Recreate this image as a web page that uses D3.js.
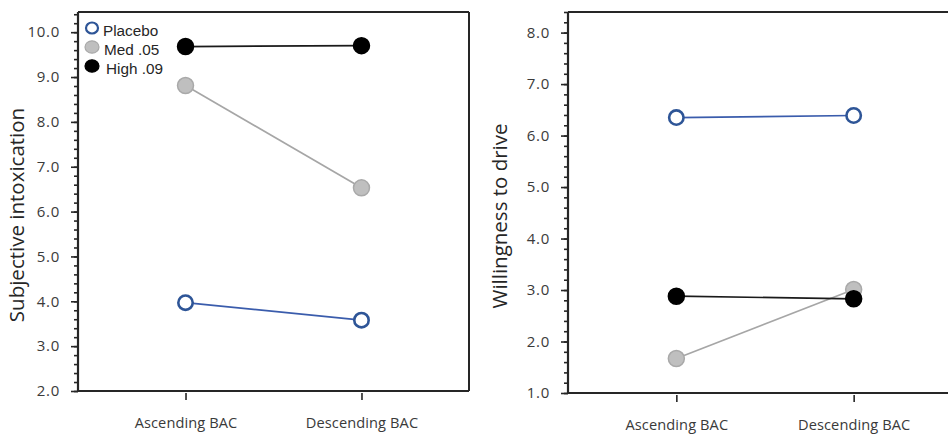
<!DOCTYPE html>
<html>
<head>
<meta charset="utf-8">
<script src="https://cdn.jsdelivr.net/npm/d3@7"></script>
<style>
  html, body { margin: 0; padding: 0; background: #fff; }
  svg { display: block; font-family: "Open Sans", sans-serif; }
</style>
</head>
<body>
<svg id="chart" width="948" height="435"></svg>
<script>
// Conditions on the x axis
const categories = ["Ascending BAC", "Descending BAC"];

// Beverage groups
const groups = ["Placebo", "Med .05", "High .09"];

// Subjective intoxication ratings
const intoxPlacebo = [3.97, 3.58];
const intoxMed = [8.81, 6.53];
const intoxHigh = [9.68, 9.70];

// Willingness to drive ratings
const drivePlacebo = [6.35, 6.39];
const driveMed = [1.67, 3.01];
const driveHigh = [2.88, 2.83];

// Tick labels
const intoxTicks = [2, 3, 4, 5, 6, 7, 8, 9, 10];
const driveTicks = [1, 2, 3, 4, 5, 6, 7, 8];

const styles = {
  "Placebo":  { fill: "#ffffff", stroke: "#2e5597", line: "#3a5cac", r: 7.2, sw: 2.6 },
  "Med .05":  { fill: "#bfbfbf", stroke: "#a9a9a9", line: "#a6a6a6", r: 8, sw: 1.5 },
  "High .09": { fill: "#000000", stroke: "#000000", line: "#1a1a1a", r: 8, sw: 1.5 }
};

const svg = d3.select("#chart");
const axisColor = "#262626";
const textColor = "#3a3a3a";

function panel(cfg) {
  const g = svg.append("g");
  const x = d3.scalePoint().domain(categories).range([cfg.left, cfg.right]).padding(0.611);
  const y = d3.scaleLinear().domain(cfg.domain).range([cfg.bottom, cfg.top]);

  // Frame: top, right and bottom edges
  g.append("line").attr("x1", cfg.left).attr("x2", cfg.right)
    .attr("y1", cfg.top).attr("y2", cfg.top)
    .attr("stroke", axisColor).attr("stroke-width", 2);
  g.append("line").attr("x1", cfg.right).attr("x2", cfg.right)
    .attr("y1", cfg.top).attr("y2", cfg.bottom)
    .attr("stroke", axisColor).attr("stroke-width", 2);
  g.append("line").attr("x1", cfg.left).attr("x2", cfg.right)
    .attr("y1", cfg.bottom).attr("y2", cfg.bottom)
    .attr("stroke", axisColor).attr("stroke-width", 2);

  // Minor ticks every 0.2
  const minor = d3.range(Math.round(cfg.domain[0] * 5), Math.floor(cfg.domain[1] * 5 + 1e-6) + 1)
    .map(v => v / 5);
  g.append("g")
    .attr("transform", `translate(${cfg.left},0)`)
    .call(d3.axisLeft(y).tickValues(minor).tickSize(4).tickSizeOuter(0).tickFormat(""))
    .call(a => a.select(".domain").remove())
    .call(a => a.selectAll("line").attr("stroke", axisColor).attr("stroke-width", 1.6));

  // Major ticks and labels
  g.append("g")
    .attr("transform", `translate(${cfg.left},0)`)
    .call(d3.axisLeft(y).tickValues(cfg.ticks).tickSize(7).tickPadding(11).tickSizeOuter(0)
      .tickFormat(d3.format(".1f")))
    .call(a => a.select(".domain").attr("stroke", axisColor).attr("stroke-width", 2.2)
      .attr("d", `M0,${cfg.top}V${cfg.bottom}`))
    .call(a => a.selectAll("line").attr("stroke", axisColor).attr("stroke-width", 1.6))
    .call(a => a.selectAll("text").attr("fill", textColor)
      .style("font-size", "15px").style("letter-spacing", "0.7px")
      .style("font-family", "Open Sans"));

  // Category ticks below the axis
  g.append("g")
    .attr("transform", `translate(0,${cfg.bottom + 2})`)
    .call(d3.axisBottom(x).tickSize(7).tickPadding(18).tickSizeOuter(0))
    .call(a => a.select(".domain").remove())
    .call(a => a.selectAll("line").attr("stroke", axisColor).attr("stroke-width", 1.6))
    .call(a => a.selectAll("text").attr("fill", textColor)
      .style("font-size", "14.6px").style("letter-spacing", "0.1px")
      .style("font-family", "Open Sans"));

  // Axis title
  g.append("text")
    .attr("transform", `translate(${cfg.titleX},${cfg.titleY}) rotate(-90)`)
    .attr("text-anchor", "middle")
    .attr("fill", "#262626")
    .style("font-size", "20.5px")
    .text(cfg.title);

  // Lines first, then markers on top
  cfg.series.forEach(([name, vals]) => {
    const s = styles[name];
    const pts = categories.map((c, i) => [x(c), y(vals[i])]);
    g.append("path")
      .attr("d", d3.line()(pts))
      .attr("fill", "none")
      .attr("stroke", s.line)
      .attr("stroke-width", 1.7);
  });
  cfg.series.forEach(([name, vals]) => {
    const s = styles[name];
    g.selectAll(null)
      .data(categories.map((c, i) => ({ c, v: vals[i] })))
      .join("circle")
      .attr("cx", d => x(d.c))
      .attr("cy", d => y(d.v))
      .attr("r", s.r)
      .attr("fill", s.fill)
      .attr("stroke", s.stroke)
      .attr("stroke-width", s.sw);
  });
  return g;
}

panel({
  left: 78, right: 469, top: 12, bottom: 391,
  domain: [2, 10.45], ticks: intoxTicks,
  title: "Subjective intoxication", titleX: 24, titleY: 215,
  series: [["Placebo", intoxPlacebo], ["Med .05", intoxMed], ["High .09", intoxHigh]]
});

panel({
  left: 568, right: 962, top: 12, bottom: 393,
  domain: [1, 8.4], ticks: driveTicks,
  title: "Willingness to drive", titleX: 507, titleY: 216,
  series: [["Placebo", drivePlacebo], ["Med .05", driveMed], ["High .09", driveHigh]]
});

// Legend
const legend = svg.append("g");
const legendY = d3.scalePoint().domain(groups).range([28, 66]);
groups.forEach((name, i) => {
  const s = styles[name];
  legend.append("ellipse")
    .attr("cx", 92)
    .attr("cy", legendY(name))
    .attr("rx", name === "Placebo" ? 6 : 7)
    .attr("ry", name === "Placebo" ? 5.5 : 6.2)
    .attr("fill", s.fill)
    .attr("stroke", s.stroke)
    .attr("stroke-width", name === "Placebo" ? 2.2 : 1.2);
  legend.append("text")
    .attr("x", [103, 104, 106][i])
    .attr("y", legendY(name) + 7.5)
    .attr("fill", "#262626")
    .style("font-family", "'Liberation Sans', Arial, sans-serif")
    .style("font-size", "15.3px")
    .text(name);
});
</script>
</body>
</html>
